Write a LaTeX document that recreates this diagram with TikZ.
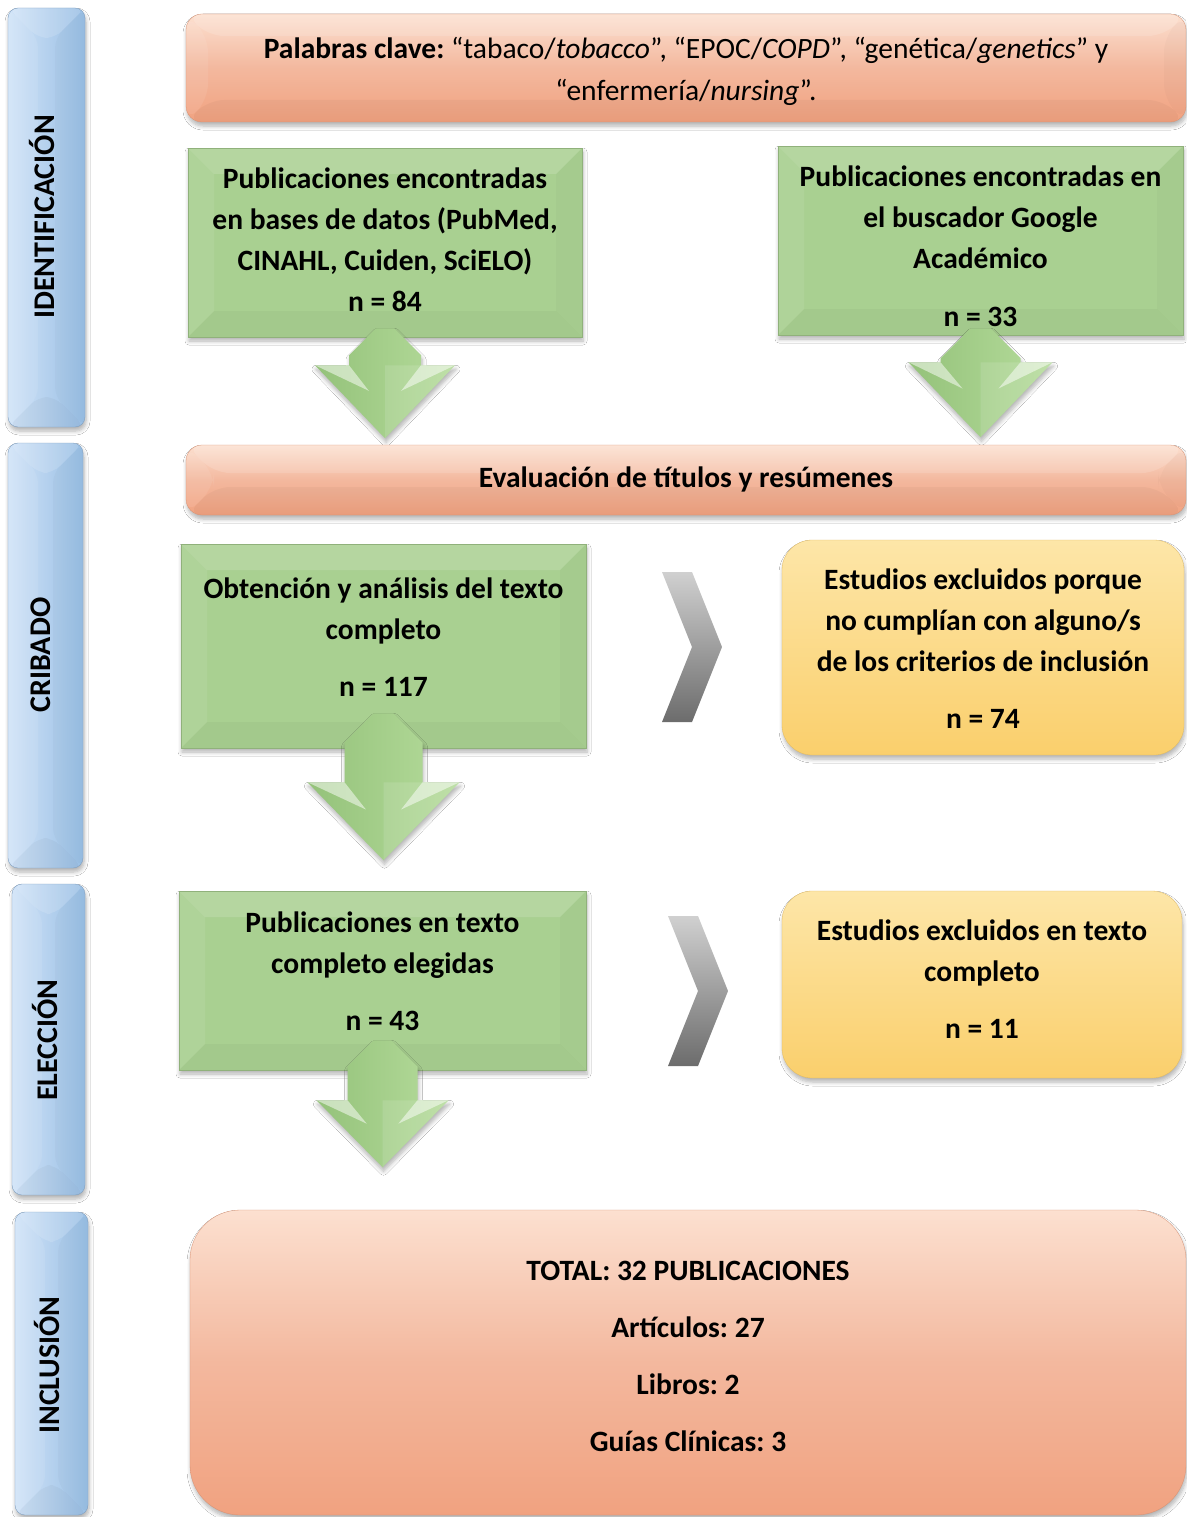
\documentclass[tikz,border=0pt]{standalone}
\usepackage{fontspec}
\setmainfont{Carlito}
\frenchspacing
\usetikzlibrary{shadows.blur}

\definecolor{salmontop}{RGB}{252,224,208}
\definecolor{salmonmid}{RGB}{243,184,158}
\definecolor{salmonbot}{RGB}{241,162,128}
\definecolor{greenfill}{RGB}{169,208,145}
\definecolor{arrowdark}{RGB}{148,194,122}
\definecolor{arrowlight}{RGB}{182,220,156}
\definecolor{yellowtop}{RGB}{253,230,168}
\definecolor{yellowbot}{RGB}{250,207,108}
\definecolor{bluefill}{RGB}{152,190,228}
\definecolor{bluelight}{RGB}{210,228,248}
\definecolor{chevtop}{RGB}{208,208,208}
\definecolor{chevbot}{RGB}{108,108,108}

\tikzset{
  soft shadow/.style={blur shadow={shadow blur steps=6, shadow xshift=1pt,
      shadow yshift=-4pt, shadow opacity=30, shadow blur radius=4pt}},
  bevel/.style={path picture={
      \path (path picture bounding box.north west) coordinate (bnw)
            (path picture bounding box.north east) coordinate (bne)
            (path picture bounding box.south west) coordinate (bsw)
            (path picture bounding box.south east) coordinate (bse);
      \fill[white,opacity=0.14] (bnw) -- (bne) -- ([xshift=-#1,yshift=-#1]bne)
        -- ([xshift=#1,yshift=-#1]bnw) -- cycle;
      \fill[white,opacity=0.08] (bnw) -- ([xshift=#1,yshift=-#1]bnw)
        -- ([xshift=#1,yshift=#1]bsw) -- (bsw) -- cycle;
      \fill[black,opacity=0.03] (bsw) -- ([xshift=#1,yshift=#1]bsw)
        -- ([xshift=-#1,yshift=#1]bse) -- (bse) -- cycle;
      \fill[black,opacity=0.02] (bse) -- ([xshift=-#1,yshift=#1]bse)
        -- ([xshift=-#1,yshift=-#1]bne) -- (bne) -- cycle;}},
  phase/.style={rounded corners=10pt, inner sep=0pt, left color=bluelight,
    right color=bluefill, draw=bluefill!85!black, line width=0.4pt,
    soft shadow, bevel=30pt},
  phaselabel/.style={rotate=90, font=\bfseries\fontsize{30}{34}\selectfont},
  keybox/.style={rounded corners=16pt, inner sep=0pt,
    top color=salmontop, bottom color=salmonbot, middle color=salmonmid,
    draw=salmonbot!90!black, line width=0.3pt, soft shadow, bevel=22pt},
  greenbox/.style={inner sep=0pt, fill=greenfill,
    draw=greenfill!85!black, line width=0.5pt, soft shadow, bevel=26pt},
  excbox/.style={rounded corners=30pt, inner sep=0pt,
    top color=yellowtop, bottom color=yellowbot, draw=yellowbot!90!black,
    line width=0.3pt, soft shadow},
  totalbox/.style={keybox, rounded corners=50pt, bevel=0pt},
  boxtext/.style={inner sep=0pt, align=center,
    font=\bfseries\fontsize{29.5}{41}\selectfont},
}

% anchor, shaft half width, shaft top, head top, head half width, tip
\newcommand\blockarrow[6]{%
  \begin{scope}[shift={(#1)}]
    \shade[left color=arrowdark, right color=arrowlight, soft shadow]
      ({-#2},{#3+0.75*#2}) -- ({-0.25*#2},{#3}) -- ({0.25*#2},{#3})
      -- ({#2},{#3+0.75*#2}) -- ({#2},{#4}) -- ({#5},{#4}) -- (0,{#6})
      -- ({-#5},{#4}) -- ({-#2},{#4}) -- cycle;
    \fill[white,opacity=0.12] (0,{#4}) -- ({#5},{#4}) -- (0,{#6}) -- cycle;
    \fill[white,opacity=0.5] ({-#5},{#4}) -- ({-#2},{#4})
      -- ({-0.45*#2},{#4+0.35*(#6-#4)}) -- cycle;
    \fill[white,opacity=0.5] ({#5},{#4}) -- ({#2},{#4})
      -- ({0.45*#2},{#4+0.35*(#6-#4)}) -- cycle;
  \end{scope}}

% top left corner of a grey chevron
\newcommand\chevron[1]{%
  \shade[top color=chevtop, bottom color=chevbot, shift={(#1)}]
    (0,0) -- (30,0) -- (60,75) -- (30,150) -- (0,150) -- (30,75) -- cycle;}

\begin{document}
\begin{tikzpicture}[x=1pt, y=-1pt]
  \fill[white] (0,0) rectangle (1186,1517);
  \useasboundingbox (0,0) rectangle (1186,1517);

  % phases
  \node[phase, minimum width=77pt, minimum height=419pt] (ident) at (46.5,217.5) {};
  \node[phase, minimum width=75pt, minimum height=425pt] (crib) at (45.5,655.5) {};
  \node[phase, minimum width=73pt, minimum height=311pt] (elec) at (48.5,1039.5) {};
  \node[phase, minimum width=73pt, minimum height=303pt] (incl) at (51.5,1363.5) {};
  \node[phaselabel] (identlbl) at (42,217) {IDENTIFICACIÓN};
  \node[phaselabel] (criblbl) at (41,655) {CRIBADO};
  \node[phaselabel] (eleclbl) at (45,1040) {ELECCIÓN};
  \node[phaselabel] (incllbl) at (47,1365) {INCLUSIÓN};

  % identification
  \node[keybox, minimum width=1000pt, minimum height=108pt] (keys) at (686,68) {};
  \node[boxtext, font=\fontsize{29.5}{42}\selectfont] (keystxt) at (686,71)
    {\textbf{Palabras clave:} “tabaco/\textit{tobacco}”, “EPOC/\textit{COPD}”, “genética/\textit{genetics}” y\\
     “enfermería/\textit{nursing}”.};
  \node[greenbox, minimum width=394pt, minimum height=189pt] (pubdb) at (385,242.5) {};
  \node[boxtext] (pubdbtxt) at (385,239.5)
    {Publicaciones encontradas\\ en bases de datos (PubMed,\\ CINAHL, Cuiden, SciELO)\\ n = 84};
  \node[greenbox, minimum width=405pt, minimum height=189pt] (google) at (980.5,240.5) {};
  \node[boxtext] (googletxt) at (980.5,246.5)
    {Publicaciones encontradas en\\ el buscador Google\\ Académico\\[17pt] n = 33};
  \blockarrow{pubdb.south}{36}{-9}{28}{70}{101}
  \blockarrow{google.south}{40}{-7}{27}{72}{102}

  % screening
  \node[keybox, bevel=28pt, minimum width=1000pt, minimum height=70pt] (eval) at (686,480) {};
  \node[boxtext] (evaltxt) at (686,479) {Evaluación de títulos y resúmenes};
  \node[greenbox, minimum width=405pt, minimum height=204pt] (texto) at (383.5,646) {};
  \node[boxtext] (textotxt) at (383.5,637)
    {Obtención y análisis del texto\\ completo\\[16pt] n = 117};
  \node[excbox, minimum width=402pt, minimum height=215pt] (excl1) at (983,647.5) {};
  \node[boxtext] (excl1txt) at (983,649)
    {Estudios excluidos porque\\ no cumplían con alguno/s\\ de los criterios de inclusión\\[16pt] n = 74};
  \chevron{662,572}
  \blockarrow{texto.south}{39}{-35}{34}{76}{112}

  % eligibility
  \node[greenbox, minimum width=407pt, minimum height=179pt] (elegidas) at (382.5,980.5) {};
  \node[boxtext] (elegidastxt) at (382.5,971.5)
    {Publicaciones en texto\\ completo elegidas\\[16pt] n = 43};
  \node[excbox, minimum width=400pt, minimum height=187pt] (excl2) at (982,984.5) {};
  \node[boxtext] (excl2txt) at (982,979.5)
    {Estudios excluidos en texto\\ completo\\[16pt] n = 11};
  \chevron{668,916}
  \blockarrow{elegidas.south}{35}{-30}{30}{66}{97}

  % inclusion
  \node[totalbox, minimum width=996pt, minimum height=305pt] (total) at (688,1362.5) {};
  \node[boxtext] (totaltxt) at (688,1356.5)
    {TOTAL: 32 PUBLICACIONES\\[16pt] Artículos: 27\\[16pt] Libros: 2\\[16pt] Guías Clínicas: 3};
\end{tikzpicture}
\end{document}
